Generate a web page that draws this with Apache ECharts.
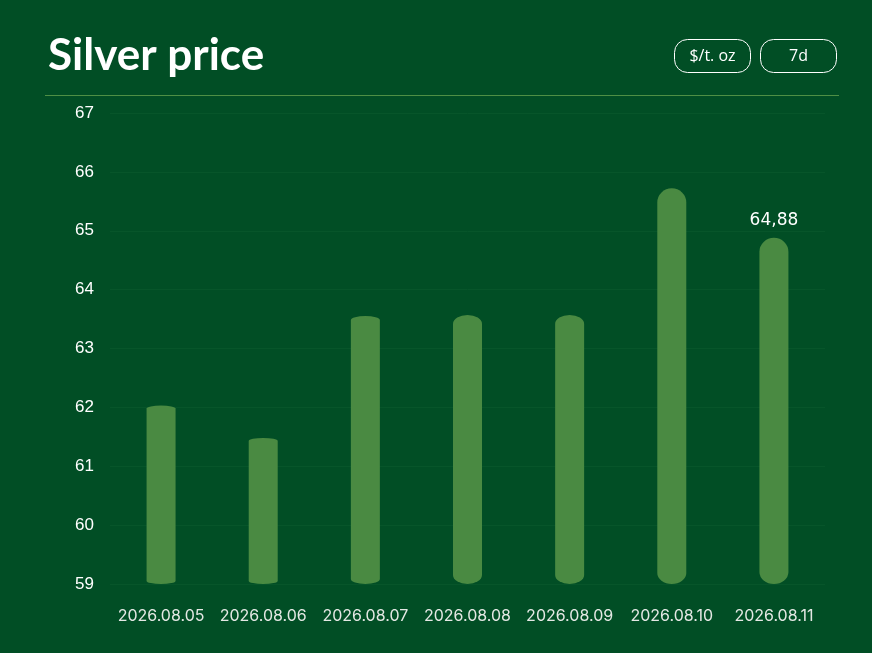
<!DOCTYPE html>
<html>
<head>
<meta charset="utf-8">
<script src="https://cdn.jsdelivr.net/npm/echarts@6/dist/echarts.min.js"></script>
<style>
  html, body { margin: 0; padding: 0; background: #014e25; }
  #main { width: 872px; height: 653px; }
</style>
</head>
<body>
<div id="main"></div>
<script>
// data
var dates = ['2026.08.05', '2026.08.06', '2026.08.07', '2026.08.08', '2026.08.09', '2026.08.10', '2026.08.11'];
var prices = [62.03, 61.48, 63.55, 63.57, 63.57, 65.72, 64.88];
var yTicks = { min: 59, max: 67, step: 1 };
var unitButtons = ['$/t. oz', '7d'];
var labelIndex = 6; // only the last bar shows its value

// cap roundness of each bar (vertical radius of top / bottom ends, px)
var capTop = [3, 3, 4, 9, 9, 14, 14];
var capBottom = [3, 3, 5, 9, 9, 11, 12];

var BAR_W = 29;
var BG = '#014e25';
var BAR = '#4a8a42';

var myChart = echarts.init(document.getElementById('main'));

var renderBar = function(params, api) {
    var i = api.value(0);
    var top = api.coord([i, api.value(1)]);
    var bot = api.coord([i, yTicks.min]);
    var rx = BAR_W / 2;
    var x0 = top[0] - rx, x1 = top[0] + rx;
    var rt = capTop[params.dataIndex], rb = capBottom[params.dataIndex];
    var d = 'M' + x0 + ',' + (top[1] + rt) +
        ' A' + rx + ',' + rt + ' 0 0 1 ' + x1 + ',' + (top[1] + rt) +
        ' L' + x1 + ',' + (bot[1] - rb) +
        ' A' + rx + ',' + rb + ' 0 0 1 ' + x0 + ',' + (bot[1] - rb) + ' Z';
    var children = [{
        type: 'path',
        shape: { pathData: d },
        style: { fill: BAR }
    }];
    if (params.dataIndex === labelIndex) {
        children.push({
            type: 'text',
            x: top[0],
            y: top[1] - 9,
            style: {
                text: api.value(1).toFixed(2).replace('.', ','),
                fill: '#ffffff',
                font: '17px "DejaVu Sans"',
                align: 'center',
                verticalAlign: 'bottom'
            }
        });
    }
    return { type: 'group', children: children };
};

var buttonGraphics = [];
var btnX = [674, 760];
unitButtons.forEach(function(txt, k) {
    buttonGraphics.push({
        type: 'rect',
        shape: { x: btnX[k] + 0.5, y: 39.5, width: 76, height: 33, r: 13 },
        style: { fill: 'none', stroke: '#ffffff', lineWidth: 1 }
    });
    buttonGraphics.push({
        type: 'text',
        x: btnX[k] + 38.5, y: 56,
        style: {
            text: txt, fill: '#ffffff',
            font: '16px "Open Sans"',
            align: 'center', verticalAlign: 'middle'
        }
    });
});

var option = {
    backgroundColor: BG,
    animation: false,
    title: {
        text: 'Silver price',
        left: 43,
        top: 29,
        textStyle: {
            color: '#ffffff',
            fontFamily: 'Lato',
            fontWeight: 'bold',
            fontSize: 44
        }
    },
    graphic: [{
        type: 'line',
        shape: { x1: 45, y1: 95.5, x2: 839, y2: 95.5 },
        style: { stroke: '#4f8f45', lineWidth: 1 }
    }].concat(buttonGraphics),
    grid: {
        left: 110,
        right: 47,
        top: 113,
        bottom: 69,
        containLabel: false
    },
    xAxis: {
        type: 'category',
        data: dates,
        axisLine: { show: false },
        axisTick: { show: false },
        axisLabel: {
            interval: 0,
            color: '#e4e8e4',
            fontFamily: 'Inter',
            fontSize: 16,
            margin: 24
        }
    },
    yAxis: {
        type: 'value',
        min: yTicks.min,
        max: yTicks.max,
        interval: yTicks.step,
        axisLine: { show: false },
        axisTick: { show: false },
        splitLine: { lineStyle: { color: '#07552a', width: 1 } },
        axisLabel: {
            color: '#ffffff',
            fontFamily: 'Liberation Sans',
            fontSize: 17,
            margin: 16
        }
    },
    series: [{
        type: 'custom',
        renderItem: renderBar,
        encode: { x: 0, y: 1 },
        data: prices.map(function(v, i) { return [i, v]; })
    }]
};

myChart.setOption(option);
</script>
</body>
</html>
